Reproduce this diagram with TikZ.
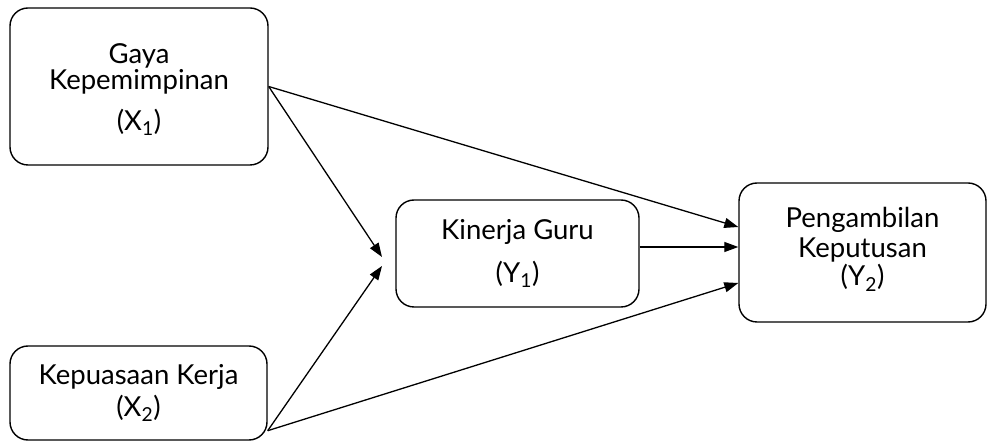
\documentclass[tikz,border=0pt]{standalone}
\usepackage{fontspec}
\setmainfont{Lato}
\usetikzlibrary{arrows.meta,calc}
\begin{document}
\begin{tikzpicture}[x=1pt,y=-1pt,
  box/.style={draw,line width=1.4pt,rounded corners=18pt,align=center,inner sep=0pt,
    font=\fontsize{27.5}{29}\selectfont},
  conn/.style={line width=1.3pt,-{Triangle[length=14pt,width=10pt]}}]
\useasboundingbox (0,0) rectangle (989,443);
\node[box,minimum width=258pt,minimum height=157pt] (X1) at (139,86.5)
  {\rule{0pt}{26pt}Gaya\\[-3pt]Kepemimpinan\\[12pt](X\textsubscript{1})};
\node[box,minimum width=257pt,minimum height=94pt] (X2) at (138.5,393)
  {Kepuasaan Kerja\\[3pt](X\textsubscript{2})};
\node[box,minimum width=243pt,minimum height=107pt] (Y1) at (517.5,253.5)
  {Kinerja Guru\\[14pt](Y\textsubscript{1})};
\node[box,minimum width=247pt,minimum height=139pt] (Y2) at (862.5,252.5)
  {Pengambilan\\[1pt]Keputusan\\[-1pt](Y\textsubscript{2})\rule[-12pt]{0pt}{0pt}};
\coordinate (m1) at (382,257);
\coordinate (m2) at (382,266);
\draw[conn] (X1.east) -- (m1);
\draw[conn] ([yshift=10pt]X2.south east) -- (m2);
\draw[conn] (X1.east) -- ([yshift=25.5pt]Y2.west);
\draw[conn] ([yshift=6.5pt]Y1.east) -- ([yshift=5.5pt]Y2.west);
\draw[conn] ([yshift=10pt]X2.south east) -- ([yshift=-30.5pt]Y2.west);
\end{tikzpicture}
\end{document}
